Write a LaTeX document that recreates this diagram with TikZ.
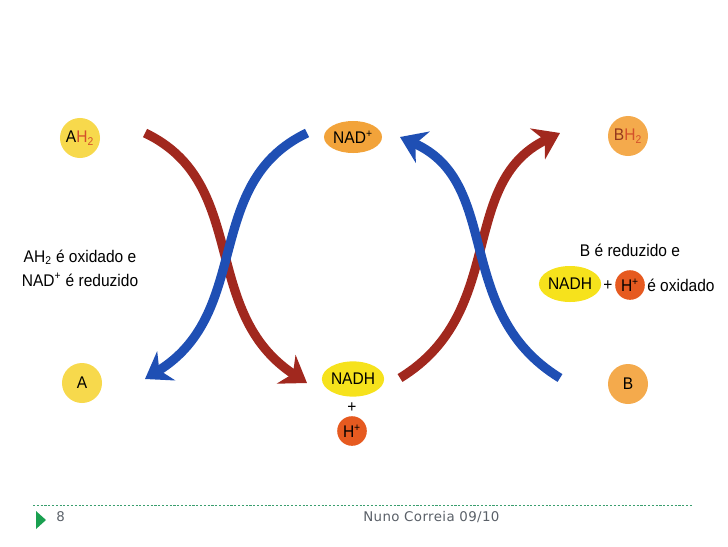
\documentclass[tikz,border=0pt]{standalone}
\usepackage{fontspec}
\setmainfont{Liberation Sans}[FakeStretch=0.92]
\newfontfamily\footfont{DejaVu Sans}[LetterSpace=3]
\usepackage{tikz}
\usetikzlibrary{arrows.meta,shapes.geometric}
\definecolor{molYellow}{HTML}{F7D94C}
\definecolor{molOrange}{HTML}{F4AA4C}
\definecolor{nadOrange}{HTML}{F2A33A}
\definecolor{nadhYellow}{HTML}{F6E21C}
\definecolor{protonRed}{HTML}{E65A20}
\definecolor{subRed}{HTML}{D4502A}
\definecolor{arrRed}{HTML}{A1281E}
\definecolor{arrBlue}{HTML}{1F4FB4}
\definecolor{footGreen}{HTML}{3A9E6E}
\definecolor{footTri}{HTML}{1AA050}
\definecolor{footGray}{HTML}{5A6068}

\begin{document}
\begin{tikzpicture}[
  x=0.025cm, y=-0.025cm,
  font=\fontsize{12}{14}\selectfont,
  mol/.style={circle, minimum size=1cm, inner sep=0pt},
  ymol/.style={mol, fill=molYellow},
  omol/.style={mol, fill=molOrange},
  cofactor/.style={ellipse, minimum width=1.45cm, minimum height=0.8cm, inner sep=0pt},
  proton/.style={circle, minimum size=0.74cm, inner sep=0pt, fill=protonRed},
  redflow/.style={-{Stealth[length=0.62cm, width=0.85cm, inset=0.2cm]}, line width=0.23cm, draw=arrRed},
  blueflow/.style={-{Stealth[length=0.62cm, width=0.85cm, inset=0.2cm]}, line width=0.23cm, draw=arrBlue}
]
  \useasboundingbox (0,0) rectangle (728,546);

  \node[ymol] (ah2) at (80,138) {A{\color{subRed}H\textsubscript{2}}};
  \node[ymol] (a) at (82,383) {A};
  \node[cofactor, fill=nadOrange] (nad) at (353,137) {NAD\textsuperscript{+}};
  \node[cofactor, fill=nadhYellow, minimum height=0.88cm] (nadh) at (353,379) {NADH};
  \node (plus) at (352,408) {+};
  \node[proton] (h) at (352,431) {H\textsuperscript{+}};
  \node[omol] (bh2) at (628,136) {{\color{subRed!70!black}B}{\color{subRed}H\textsubscript{2}}};
  \node[omol] (b) at (628,384) {B};

  \node[align=center, font=\fontsize{12}{17}\selectfont] (leftnote) at (80,268)
    {AH\textsubscript{2} é oxidado e\\NAD\textsuperscript{+} é reduzido};
  \node (rightnote) at (630,250) {B é reduzido e};
  \node[cofactor, fill=nadhYellow, minimum width=1.55cm, minimum height=0.9cm] (nadhR) at (570,284) {NADH};
  \node (plusR) at (608,286) {+};
  \node[proton] (hR) at (630,285) {H\textsuperscript{+}};
  \node[anchor=west, inner sep=0pt] (oxid) at (647,285) {é oxidado};

  % arrow ends
  \coordinate (redLs) at (145,133);
  \coordinate (redLe) at (307,383);
  \coordinate (blueLs) at (307,133);
  \coordinate (blueLe) at (145,379);
  \coordinate (redRs) at (400,378);
  \coordinate (redRe) at (560,133);
  \coordinate (blueRs) at (560,378);
  \coordinate (blueRe) at (400,137);

  \draw[redflow] (redLs) .. controls (250,183) and (199,312) .. (redLe);
  \draw[redflow] (redRs) .. controls (508,312) and (457,183) .. (redRe);
  \draw[blueflow] (blueLs) .. controls (202,183) and (253,312) .. (blueLe);
  \draw[blueflow] (blueRs) .. controls (452,312) and (503,183) .. (blueRe);

  % footer
  \draw[footGreen, line width=0.6pt, dash pattern=on 1.5pt off 1.2pt] (33,505) -- (692,505);
  \fill[footTri] (36,511) -- (46,520) -- (36,529) -- cycle;
  \node[anchor=west, inner sep=0pt, text=footGray, font=\footfont\fontsize{9.5}{11}\selectfont] (page) at (56,517) {8};
  \node[anchor=west, inner sep=0pt, text=footGray, font=\footfont\fontsize{9.5}{11}\selectfont] (author) at (363,517) {Nuno Correia 09/10};
\end{tikzpicture}
\end{document}
